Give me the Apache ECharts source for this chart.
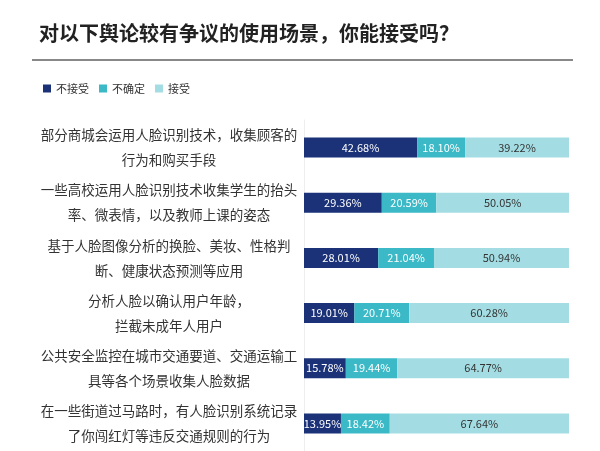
<!DOCTYPE html><html><head><meta charset="utf-8"><script src="https://cdn.jsdelivr.net/npm/echarts@6/dist/echarts.min.js"></script></head><body style="margin:0"><div id="c" style="width:600px;height:451px"></div><script>
const categories=["部分商城会运用人脸识别技术，收集顾客的\n行为和购买手段","一些高校运用人脸识别技术收集学生的抬头\n率、微表情，以及教师上课的姿态","基于人脸图像分析的换脸、美妆、性格判\n断、健康状态预测等应用","分析人脸以确认用户年龄，\n拦截未成年人用户","公共安全监控在城市交通要道、交通运输工\n具等各个场景收集人脸数据","在一些街道过马路时，有人脸识别系统记录\n了你闯红灯等违反交通规则的行为"];
const reject=[42.68,29.36,28.01,19.01,15.78,13.95];
const unsure=[18.10,20.59,21.04,20.71,19.44,18.42];
const accept=[39.22,50.05,50.94,60.28,64.77,67.64];
const names=["不接受","不确定","接受"];
const colors=["#1b3278","#3bb9c6","#a3dde3"];
const lblColors=["#fff","#fff","#333"];
const c=echarts.init(document.getElementById('c'));
const mk=(n,d,i)=>({name:n,type:'bar',stack:'a',data:d,barWidth:20,itemStyle:{color:colors[i]},
 label:{show:true,formatter:p=>p.value.toFixed(2)+'%',color:lblColors[i],fontSize:11,fontFamily:'Noto Sans CJK SC'}});
c.setOption({
 title:{text:'对以下舆论较有争议的使用场景，你能接受吗？',left:34,top:18,textStyle:{fontSize:20,fontWeight:'bold',color:'#222',fontFamily:'Noto Sans CJK SC'}},
 graphic:[{type:'rect',shape:{x:32,y:59,width:541,height:2},style:{fill:'#888'}}],
 legend:{left:38,top:78,itemWidth:8,itemHeight:8,itemGap:10,icon:'rect',textStyle:{fontSize:11,color:'#333',fontFamily:'Noto Sans CJK SC'}},
 grid:{left:304,width:265,top:120,height:345},
 xAxis:{type:'value',max:100,show:false},
 yAxis:{type:'category',inverse:true,data:categories,axisTick:{show:false},axisLine:{show:true,lineStyle:{color:'#eee'}},
  axisLabel:{margin:135,align:'center',lineHeight:25,fontSize:13.5,color:'#333',fontFamily:'Noto Sans CJK SC'}},
 series:[mk(names[0],reject,0),mk(names[1],unsure,1),mk(names[2],accept,2)]
});
</script></body></html>
